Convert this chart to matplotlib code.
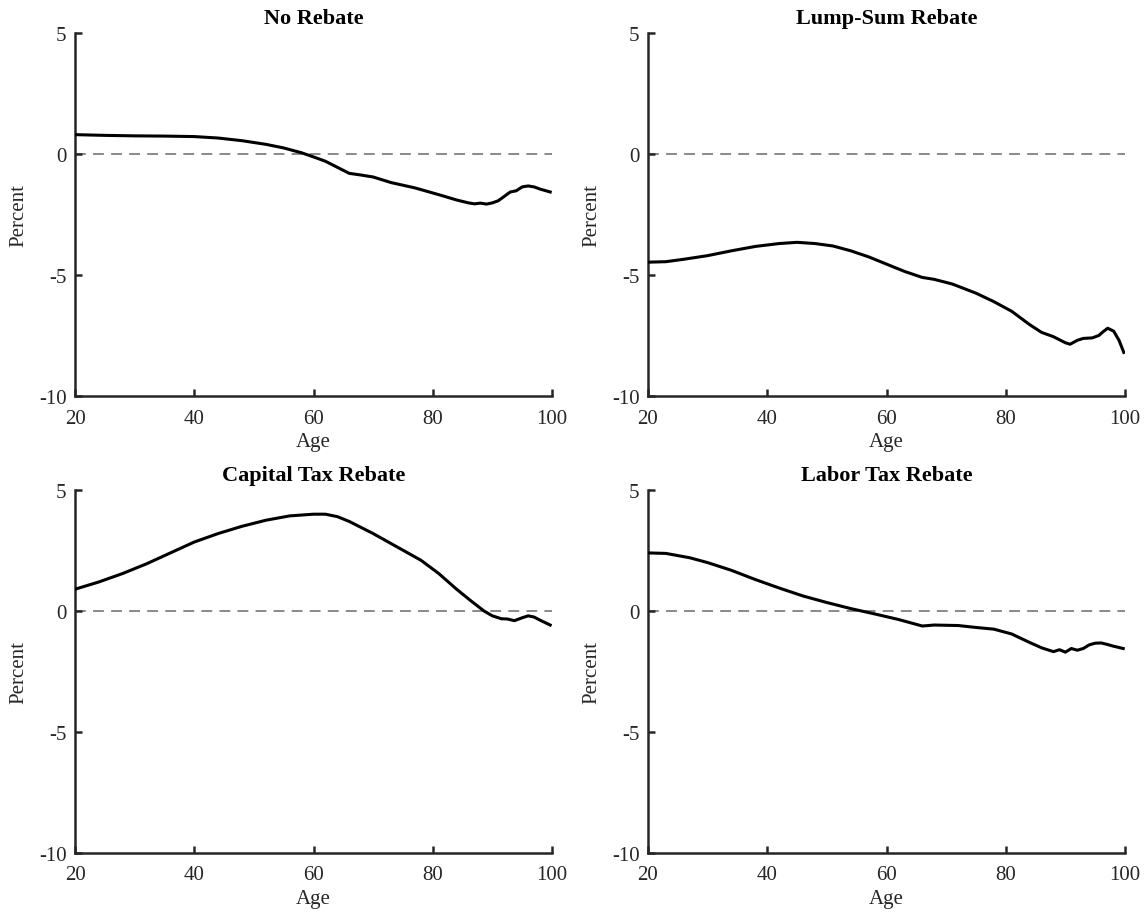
import matplotlib
matplotlib.use("Agg")
import matplotlib.pyplot as plt

plt.rcParams['font.family'] = ['Liberation Serif', 'DejaVu Serif']

titles = ["No Rebate", "Lump-Sum Rebate", "Capital Tax Rebate", "Labor Tax Rebate"]
x_ticks = [20, 40, 60, 80, 100]
y_ticks = [-10, -5, 0, 5]
y_tick_labels = ["-10", "-5", "0", "5"]

ages_no = [20, 25, 30, 35, 40, 44, 48, 52, 55, 58, 60, 62, 64, 66, 68, 70, 73, 77, 81, 84, 86, 87, 88, 89, 90, 91, 92, 93, 94, 95, 96, 97, 98, 99.7]
vals_no = [0.8, 0.77, 0.75, 0.74, 0.72, 0.66, 0.55, 0.4, 0.25, 0.05, -0.12, -0.3, -0.55, -0.8, -0.87, -0.95, -1.18, -1.4, -1.68, -1.9, -2.02, -2.06, -2.03, -2.07, -2.02, -1.93, -1.75, -1.57, -1.52, -1.36, -1.32, -1.36, -1.45, -1.57]

ages_lump = [20, 23, 26, 30, 34, 38, 42, 45, 48, 51, 54, 57, 60, 63, 66, 68, 71, 75, 78, 81, 84, 86, 88, 90, 90.8, 92, 93, 94.5, 95.6, 96.3, 97.1, 98.1, 99, 99.8]
vals_lump = [-4.47, -4.45, -4.35, -4.2, -4.0, -3.82, -3.7, -3.65, -3.7, -3.8, -4.0, -4.25, -4.55, -4.85, -5.1, -5.18, -5.37, -5.75, -6.1, -6.5, -7.05, -7.37, -7.55, -7.8, -7.86, -7.7, -7.62, -7.6, -7.5, -7.35, -7.2, -7.32, -7.7, -8.2]

ages_cap = [20, 24, 28, 32, 36, 40, 44, 48, 52, 56, 60, 62, 64, 66, 70, 74, 78, 81, 84, 86.4, 88.6, 90, 91.5, 92.5, 93.7, 95, 96, 97, 98, 99.7]
vals_cap = [0.9, 1.2, 1.55, 1.95, 2.4, 2.85, 3.2, 3.5, 3.75, 3.93, 4.0, 4.0, 3.9, 3.7, 3.2, 2.65, 2.1, 1.55, 0.9, 0.42, 0.0, -0.2, -0.32, -0.33, -0.4, -0.28, -0.2, -0.25, -0.38, -0.58]

ages_lab = [20, 23, 27, 30, 34, 38, 42, 46, 50, 54, 58, 62, 66, 68, 72, 75, 78, 81, 84, 86, 88, 89, 90, 91, 92, 93, 94, 95, 96, 97, 98, 99.7]
vals_lab = [2.4, 2.38, 2.2, 2.0, 1.68, 1.3, 0.95, 0.62, 0.35, 0.1, -0.12, -0.35, -0.62, -0.58, -0.6, -0.68, -0.75, -0.95, -1.3, -1.52, -1.68, -1.6, -1.7, -1.55, -1.62, -1.55, -1.4, -1.33, -1.32, -1.38, -1.45, -1.55]

series = [(ages_no, vals_no), (ages_lump, vals_lump), (ages_cap, vals_cap), (ages_lab, vals_lab)]

fig = plt.figure(figsize=(11.48, 9.2), dpi=100)
W, H = 1148, 920
lefts = [75, 648]
tops = [34, 491]
aw, ah = 477, 363

spine_color = "#262626"
for i, (title, (ages, vals)) in enumerate(zip(titles, series)):
    r, c = divmod(i, 2)
    left = lefts[c] / W
    bottom = (H - tops[r] - ah) / H
    ax = fig.add_axes([left, bottom, aw / W, ah / H])
    ax.axhline(0, color="#808080", lw=1.3, ls=(0, (6, 4)), zorder=1)
    ax.plot(ages, vals, color="black", lw=2.2, zorder=3)
    ax.set_xlim(20, 100)
    ax.set_ylim(-10, 5)
    ax.set_xticks(x_ticks)
    ax.set_yticks(y_ticks)
    ax.set_yticklabels(y_tick_labels)
    for s in ["top", "right"]:
        ax.spines[s].set_visible(False)
    for s in ["left", "bottom"]:
        ax.spines[s].set_linewidth(1.8)
        ax.spines[s].set_color(spine_color)
    ax.tick_params(direction="in", length=5, width=1.8, color=spine_color,
                   labelsize=15, labelcolor="#262626")
    ax.tick_params(axis="y", pad=6)
    ax.tick_params(axis="x", pad=9)
    ax.set_title(title, fontsize=16, fontweight="bold", pad=7)
    ax.set_xlabel("Age", fontsize=15, labelpad=3, color="#262626")
    ax.set_ylabel("Percent", fontsize=15, labelpad=8, color="#262626")

fig.savefig("out.png", dpi=100)
